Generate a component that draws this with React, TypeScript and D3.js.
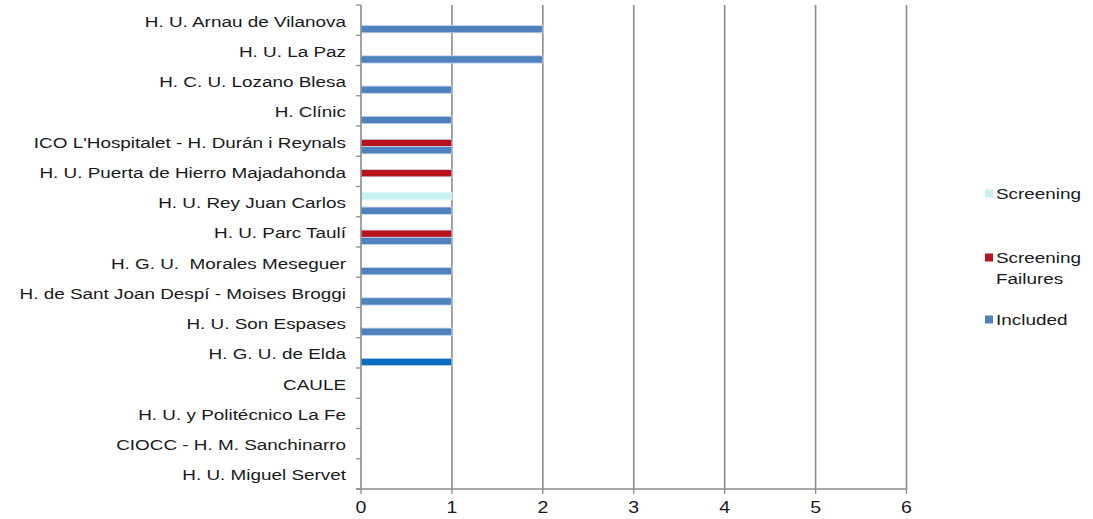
import React from "react";
import * as d3 from "d3";

const categories = [
  "H. U. Arnau de Vilanova",
  "H. U. La Paz",
  "H. C. U. Lozano Blesa",
  "H. Clínic",
  "ICO L'Hospitalet - H. Durán i Reynals",
  "H. U. Puerta de Hierro Majadahonda",
  "H. U. Rey Juan Carlos",
  "H. U. Parc Taulí",
  "H. G. U.  Morales Meseguer",
  "H. de Sant Joan Despí - Moises Broggi",
  "H. U. Son Espases",
  "H. G. U. de Elda",
  "CAULE",
  "H. U. y Politécnico La Fe",
  "CIOCC - H. M. Sanchinarro",
  "H. U. Miguel Servet",
];

const seriesNames = ["Screening", "Screening Failures", "Included"];
const screening = [0, 0, 0, 0, 0, 0, 1, 0, 0, 0, 0, 0, 0, 0, 0, 0];
const screeningFailures = [0, 0, 0, 0, 1, 1, 0, 1, 0, 0, 0, 0, 0, 0, 0, 0];
const included = [2, 2, 1, 1, 1, 0, 1, 1, 1, 1, 1, 1, 0, 0, 0, 0];
const xTicks = [0, 1, 2, 3, 4, 5, 6];

const seriesValues = [screening, screeningFailures, included];
const seriesColors = ["#C8F0F0", "#B8121C", "#4F81BD"];
const pointColorOverride: Record<string, string> = { "Included|H. G. U. de Elda": "#0A6BC2" };

const SX = 1.22;

function StretchText(props: {
  x: number;
  y: number;
  anchor: "start" | "middle" | "end";
  size: number;
  children: React.ReactNode;
}) {
  return (
    <g transform={`translate(${props.x},${props.y}) scale(${SX},1)`}>
      <text
        x={0}
        y={0}
        textAnchor={props.anchor}
        dominantBaseline="central"
        fontSize={props.size}
        fill="#1a1a1a"
        style={{ whiteSpace: "pre" }}
      >
        {props.children}
      </text>
    </g>
  );
}

export default function App() {
  const W = 1093;
  const H = 519;
  const left = 361;
  const right = 906.5;
  const top = 5;
  const bottom = 489;
  const x = d3.scaleLinear().domain([0, 6]).range([left, right]);
  const y = d3.scaleBand<string>().domain(categories).range([top, bottom]).padding(0);
  const bw = y.bandwidth();
  const sub = d3
    .scaleBand<string>()
    .domain(seriesNames)
    .range([bw * 0.2, bw * 0.92])
    .padding(0);
  const font = "'Liberation Sans', Arial, sans-serif";
  const legendItems = [
    { name: "Screening", lines: ["Screening"], y: 194 },
    { name: "Screening Failures", lines: ["Screening", "Failures"], y: 258 },
    { name: "Included", lines: ["Included"], y: 320 },
  ];
  return (
    <svg
      width={W}
      height={H}
      style={{ position: "absolute", left: 0, top: 0, background: "#fff" }}
      fontFamily={font}
    >
      {xTicks.slice(1).map((t) => (
        <line key={"g" + t} x1={x(t)} x2={x(t)} y1={top} y2={bottom} stroke="#8C8C8C" strokeWidth={1.6} />
      ))}
      {seriesNames.map((s, si) =>
        categories.map((c, ci) => {
          const v = seriesValues[si][ci];
          if (!v) return null;
          const col = pointColorOverride[s + "|" + c] || seriesColors[si];
          return (
            <rect
              key={s + c}
              x={x(0)}
              y={(y(c) as number) + (sub(s) as number)}
              width={x(v) - x(0)}
              height={sub.bandwidth()}
              fill={col}
              stroke={si === 0 ? "#E0F7F7" : "#C5D6EC"}
              strokeWidth={0.8}
            />
          );
        })
      )}
      <line x1={left} x2={left} y1={top} y2={bottom} stroke="#8C8C8C" strokeWidth={1.6} />
      {d3.range(categories.length + 1).map((i) => {
        const yy = top + i * bw;
        return <line key={"yt" + i} x1={left - 5} x2={left} y1={yy} y2={yy} stroke="#8C8C8C" strokeWidth={1.3} />;
      })}
      {categories.map((c) => (
        <StretchText key={"l" + c} x={346} y={(y(c) as number) + bw / 2 + 1} anchor="end" size={15.5}>
          {c}
        </StretchText>
      ))}
      <line x1={left - 5} x2={right} y1={bottom} y2={bottom} stroke="#8C8C8C" strokeWidth={1.6} />
      {xTicks.map((t) => (
        <g key={"xt" + t}>
          <line x1={x(t)} x2={x(t)} y1={bottom} y2={bottom + 5} stroke="#8C8C8C" strokeWidth={1.3} />
          <StretchText x={x(t)} y={508} anchor="middle" size={16}>
            {t}
          </StretchText>
        </g>
      ))}
      {legendItems.map((it) => {
        const si = seriesNames.indexOf(it.name);
        return (
          <g key={"lg" + it.name}>
            <rect x={985} y={it.y - 4.5} width={8} height={8} fill={seriesColors[si]} />
            {it.lines.map((ln, li) => (
              <StretchText key={ln} x={996} y={it.y + li * 21} anchor="start" size={15.5}>
                {ln}
              </StretchText>
            ))}
          </g>
        );
      })}
    </svg>
  );
}
